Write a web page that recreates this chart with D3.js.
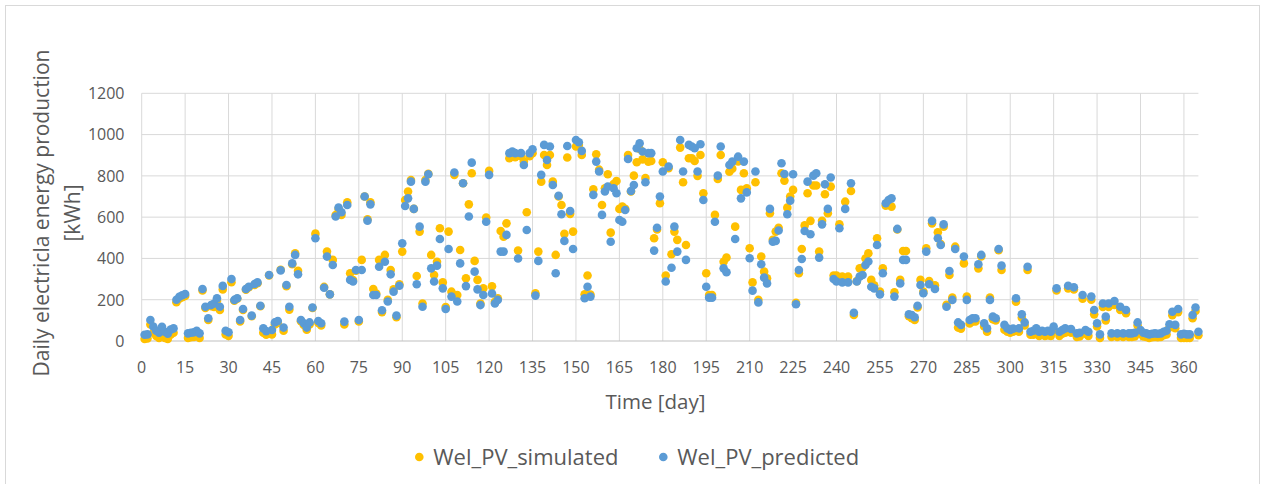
<!DOCTYPE html>
<html><head><meta charset="utf-8">
<script src="https://cdn.jsdelivr.net/npm/d3@7"></script>
<style>body{margin:0;background:#fff} text{font-family:"Open Sans",sans-serif;}</style>
</head><body><svg id="c" width="1262" height="484"></svg>
<script>
const seriesNames = ["Wel_PV_simulated", "Wel_PV_predicted"];
const seriesColors = ["#FFC000", "#5B9BD5"];
const xTickLabels = [0,15,30,45,60,75,90,105,120,135,150,165,180,195,210,225,240,255,270,285,300,315,330,345,360];
const yTickLabels = [0,200,400,600,800,1000,1200];

const predicted = [
30,32,102,70,50,40,69,45,35,55,
61,200,214,222,228,37,40,42,50,37,
252,166,110,174,182,207,166,267,50,42,
300,199,207,102,155,252,263,123,276,284,
171,61,48,320,53,90,97,342,65,271,
166,376,417,323,102,86,65,90,162,498,
97,86,258,409,226,368,603,646,624,94,
659,296,288,344,102,344,700,583,662,223,
223,360,149,384,191,323,239,123,268,473,
654,691,772,640,275,554,166,772,808,352,
288,365,494,255,155,446,215,816,191,376,
764,266,603,864,336,250,174,223,578,805,
230,182,199,433,433,514,910,918,910,400,
910,853,538,910,929,220,388,805,950,877,
942,756,328,704,614,485,945,630,446,974,
963,921,207,263,215,708,869,821,611,724,
748,481,740,716,586,578,635,882,727,756,
934,958,918,769,910,910,438,549,700,821,
288,845,355,554,433,974,821,393,950,942,
934,821,953,683,263,210,210,578,801,942,
352,333,853,869,494,893,691,869,720,401,
244,821,187,372,307,279,640,481,485,535,
861,809,614,680,808,178,344,397,533,772,
517,801,813,404,565,759,640,792,300,288,
546,284,640,284,764,137,288,312,320,368,
385,263,255,465,226,328,667,683,691,215,
543,279,393,393,129,126,115,171,271,231,
433,275,582,252,498,465,565,166,339,199,
446,90,78,409,199,102,110,110,372,417,
86,61,199,118,110,446,365,78,61,53,
60,207,61,129,90,360,45,50,61,45,
50,45,50,45,70,255,45,53,61,268,
58,260,37,40,223,53,45,215,150,86,
32,182,118,182,37,194,37,166,37,150,
37,37,40,90,53,40,37,32,35,37,
35,37,45,50,81,142,78,155,32,35,
32,32,126,162,45
];

const simulated = [
10,12,80,40,25,15,30,15,10,30,
40,188,205,212,218,15,18,20,28,15,
245,160,102,168,165,195,150,250,32,25,
285,195,205,95,150,248,260,120,272,280,
168,40,30,318,32,80,88,345,50,265,
152,372,425,340,96,78,55,80,160,520,
88,75,262,433,226,393,610,640,611,80,
672,328,295,340,95,393,700,590,672,252,
230,393,140,417,200,344,250,115,275,433,
683,724,780,640,315,530,182,780,810,417,
320,384,546,284,165,530,239,805,223,441,
764,304,662,813,388,296,182,255,598,824,
265,190,207,533,505,570,885,895,890,438,
895,870,624,895,910,231,433,772,901,853,
901,772,417,700,659,519,889,616,530,942,
950,901,226,317,225,735,905,830,659,740,
808,525,760,775,640,651,640,901,724,801,
866,930,880,790,869,872,498,540,667,866,
317,837,420,530,490,937,769,465,885,885,
872,800,901,716,328,223,223,611,785,901,
384,404,820,835,554,870,732,813,740,449,
284,769,200,409,336,304,619,490,530,549,
813,777,646,700,732,185,328,446,560,716,
582,753,753,433,582,711,619,748,317,317,
565,312,675,312,727,126,290,352,355,400,
425,296,270,498,240,352,656,660,651,236,
540,296,436,436,120,110,102,162,296,240,
449,290,570,270,527,470,554,175,320,210,
457,65,60,376,215,85,95,95,352,410,
70,45,210,105,100,440,344,55,45,40,
45,190,45,113,75,344,30,30,45,25,
30,25,28,25,50,245,25,35,40,255,
40,250,20,22,205,35,25,200,129,70,
15,165,100,165,20,175,20,150,20,135,
20,20,22,75,35,22,20,15,18,20,
18,20,28,32,65,125,62,140,15,15,
15,15,110,145,28
];

const svg = d3.select("#c");
svg.append("rect").attr("x",5.5).attr("y",5.5).attr("width",1254).attr("height",481)
  .attr("fill","#fff").attr("stroke","#d9d9d9").attr("stroke-width",1);

const x = d3.scaleLinear().domain([0,365]).range([141.7,1198.4]);
const y = d3.scaleLinear().domain([0,1200]).range([341,93.3]);

// horizontal gridlines
svg.append("g").selectAll("line").data(yTickLabels.filter(v=>v>0)).join("line")
  .attr("x1",x(0)).attr("x2",x(365)).attr("y1",d=>y(d)).attr("y2",d=>y(d))
  .attr("stroke","#d9d9d9").attr("stroke-width",1);
// vertical gridlines
svg.append("g").selectAll("line").data(xTickLabels).join("line")
  .attr("x1",d=>x(d)).attr("x2",d=>x(d)).attr("y1",y(0)).attr("y2",y(1200))
  .attr("stroke","#d9d9d9").attr("stroke-width",1);
// bottom axis line
svg.append("line").attr("x1",x(0)).attr("x2",x(365)).attr("y1",y(0)).attr("y2",y(0))
  .attr("stroke","#bfbfbf").attr("stroke-width",1.2);

// tick labels
svg.append("g").selectAll("text").data(yTickLabels).join("text")
  .attr("x",124.5).attr("y",d=>y(d)+5.8).attr("text-anchor","end")
  .attr("font-size",16).attr("fill","#595959").text(d=>d);
svg.append("g").selectAll("text").data(xTickLabels).join("text")
  .attr("x",d=>x(d)).attr("y",372.5).attr("text-anchor","middle")
  .attr("font-size",16).attr("fill","#595959").text(d=>d);

// axis titles
svg.append("text").attr("x",655.5).attr("y",409).attr("text-anchor","middle")
  .attr("font-size",20.5).attr("fill","#595959").text("Time [day]");
const yt = svg.append("text").attr("transform","translate(48.5,213) rotate(-90)")
  .attr("text-anchor","middle").attr("font-size",21).attr("fill","#595959");
yt.append("tspan").attr("x",0).attr("y",0).text("Daily electricla energy production");
yt.append("tspan").attr("x",0).attr("y",31).text("[kWh]");

// data
const seriesData = [simulated, predicted];
seriesData.forEach((vals, si) => {
  svg.append("g").selectAll("circle").data(vals).join("circle")
    .attr("cx",(d,i)=>x(i+1)).attr("cy",d=>y(d)).attr("r",4.3)
    .attr("fill",seriesColors[si]);
});

// legend
const legendX = [419.3, 663.3];
seriesNames.forEach((n,i)=>{
  svg.append("circle").attr("cx",legendX[i]).attr("cy",457).attr("r",4.3).attr("fill",seriesColors[i]);
  svg.append("text").attr("x",legendX[i]+14).attr("y",464.5).attr("font-size",22)
    .attr("fill","#595959").text(n);
});
</script>
</body></html>
